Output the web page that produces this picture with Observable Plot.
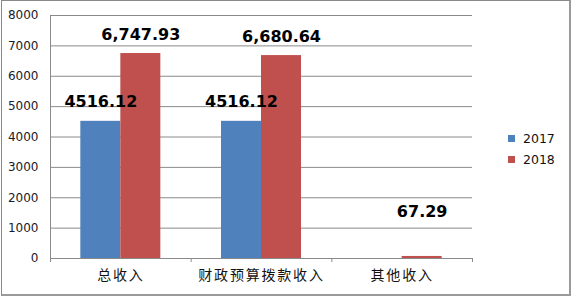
<!DOCTYPE html>
<html>
<head>
<meta charset="utf-8">
<script src="https://cdn.jsdelivr.net/npm/d3@7"></script>
<script src="https://cdn.jsdelivr.net/npm/@observablehq/plot@0.6"></script>
<style>
  body { margin: 0; background: #fff; }
  #chart { position: relative; width: 572px; height: 296px; overflow: hidden; }
  #chart svg { position: absolute; left: 0; top: 0; }
  #border {
    position: absolute; left: 1px; top: 0; width: 570px; height: 296px; box-sizing: border-box;
    border-left: 1px solid #8a8a8a; border-top: 1px solid #8a8a8a;
    border-right: 2px solid #9a9a9a; border-bottom: 2px solid #9a9a9a;
    pointer-events: none;
  }
  .legend { position: absolute; left: 508px; top: 128px; font: 12.5px "DejaVu Sans", sans-serif; color: #111; }
  .legend div { display: flex; align-items: center; height: 21px; }
  .legend span.sw { width: 7px; height: 7px; margin-right: 8px; display: inline-block; }
</style>
</head>
<body>
<div id="chart"><div id="border"></div></div>
<script>
// Income by source, 2017 vs 2018 (万元)
const categories = ["总收入", "财政预算拨款收入", "其他收入"];
const years = ["2017", "2018"];
const values2017 = [4516.12, 4516.12, null];
const values2018 = [6747.93, 6680.64, 67.29];
const yTicks = [0, 1000, 2000, 3000, 4000, 5000, 6000, 7000, 8000];
const colors = ["#4F81BD", "#C0504D"];

// Label formats: 2017 plain, 2018 with thousands separator
const formats = {"2017": d3.format(".2f"), "2018": d3.format(",.2f")};

// Width of one bar, as a fraction of a category slot
const barWidth = 0.2844;

const rows = [];
categories.forEach((cat, i) => {
  [values2017[i], values2018[i]].forEach((v, k) => {
    if (v == null) return;
    const year = years[k];
    const center = i + 0.5;
    rows.push({
      cat, i, year, value: v,
      x1: k === 0 ? center - barWidth : center,
      x2: k === 0 ? center : center + barWidth,
      label: formats[year](v)
    });
  });
});

const mid = d => (d.x1 + d.x2) / 2;
const small = d => d.value < 1000;

const plot = Plot.plot({
  width: 572,
  height: 296,
  marginLeft: 50,
  marginRight: 100,
  marginTop: 15,
  marginBottom: 38,
  style: {fontFamily: "DejaVu Sans, sans-serif", fontSize: "12px", color: "#111", background: "transparent"},
  x: {type: "linear", domain: [0, categories.length], axis: null},
  y: {domain: [0, 8000], axis: null},
  color: {domain: years, range: colors},
  marks: [
    Plot.gridY(yTicks, {stroke: "#8a8a8a", strokeOpacity: 1}),
    Plot.ruleX([0], {y1: 0, y2: 8000, stroke: "#8a8a8a"}),
    Plot.axisY({ticks: yTicks, tickSize: 0, tickPadding: 12, tickFormat: d3.format("d"), label: null, fontSize: 12, fill: "#1a1a2a"}),
    Plot.axisX({ticks: d3.range(categories.length + 1), tickSize: 4, tickFormat: () => "", stroke: "#8a8a8a", label: null}),
    Plot.rectY(rows, {x1: "x1", x2: "x2", y1: 0, y2: "value", fill: "year"}),
    Plot.text(rows.filter(d => !small(d)), {
      x: mid, y: "value", text: "label", dy: -19, lineAnchor: "middle",
      fontSize: 16, fontWeight: "bold", fill: "#000"
    }),
    Plot.text(rows.filter(small), {
      x: mid, y: "value", text: "label", dy: -45, lineAnchor: "middle",
      fontSize: 16, fontWeight: "bold", fill: "#000"
    }),
    Plot.text(categories, {
      x: (d, i) => i + 0.5, frameAnchor: "bottom", dy: 17, lineAnchor: "middle",
      fontSize: 14, fontFamily: "Noto Sans CJK SC", fill: "#111", ariaLabel: "category"
    })
  ]
});

// Widen the spacing of the category labels
d3.select(plot).selectAll("text")
  .filter(function () { return categories.includes(this.textContent); })
  .style("letter-spacing", "1.8px");

const chart = document.getElementById("chart");
chart.insertBefore(plot, chart.firstChild);

// Legend
const legend = document.createElement("div");
legend.className = "legend";
years.forEach((y, k) => {
  const row = document.createElement("div");
  row.innerHTML = `<span class="sw" style="background:${colors[k]}"></span>${y}`;
  legend.appendChild(row);
});
chart.appendChild(legend);
</script>
</body>
</html>
